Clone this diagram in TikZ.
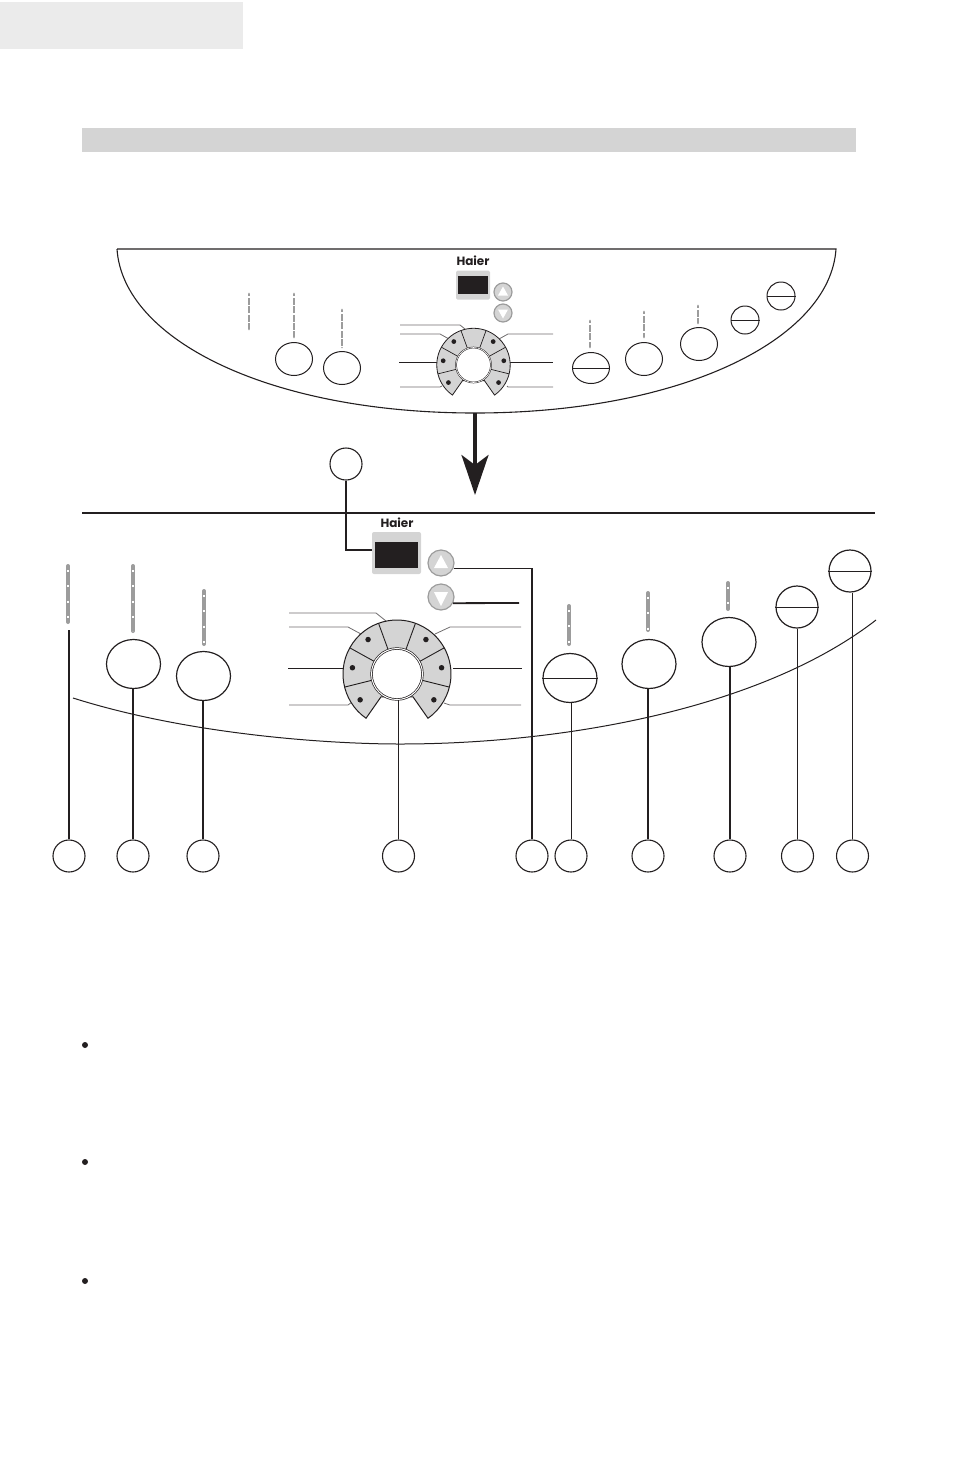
\documentclass[tikz,border=0pt]{standalone}
\usepackage{fontspec}
\setmainfont{Liberation Sans}
\newfontfamily\logofont{Poppins}
\usepackage{xcolor}
\usetikzlibrary{arrows.meta,shapes.geometric,positioning}
\definecolor{inkblack}{HTML}{231F20}
\definecolor{panelgray}{HTML}{D4D4D4}
\definecolor{tabgray}{HTML}{EBEBEB}
\definecolor{edgegray}{HTML}{9C9C9C}
\tikzset{
  numcircle/.style={draw=inkblack, circle, line width=1.1pt, inner sep=0pt, minimum size=32pt},
  bigoval/.style={draw=inkblack, ellipse, line width=1.2pt, inner sep=0pt, minimum width=54pt, minimum height=49pt},
  bigdisc/.style={draw=inkblack, circle, line width=1.2pt, inner sep=0pt, minimum size=42pt},
  smalloval/.style={draw=inkblack, ellipse, line width=1pt, inner sep=0pt, minimum width=37pt, minimum height=33pt},
  smalldisc/.style={draw=inkblack, circle, line width=1pt, inner sep=0pt, minimum size=28pt},
  lead/.style={draw=inkblack, line width=1.8pt},
  thinlead/.style={draw=inkblack, line width=1pt},
  graylead/.style={draw=inkblack!65, line width=0.8pt},
  strip/.style={draw=edgegray, line width=4pt, line cap=round, postaction={draw=white, line width=2.6pt, line cap=butt, dash pattern=on 2pt off 13.2pt, dash phase=11pt}},
  smallstrip/.style={draw=edgegray, line width=2.8pt, line cap=round, postaction={draw=white, line width=1.6pt, line cap=butt, dash pattern=on 1.4pt off 7pt, dash phase=6pt}},
  dialfill/.style={fill=panelgray, draw=inkblack, line width=1pt},
  dialdot/.style={fill=inkblack, circle, inner sep=0pt, minimum size=5.5pt},
  arrowbtn/.style={fill=panelgray, draw=edgegray, circle, line width=1.2pt, inner sep=0pt},
  haier/.style={font=\logofont\bfseries\fontsize{12}{13}\selectfont, text=inkblack, inner sep=0pt}
}

\begin{document}
\begin{tikzpicture}[x=1pt, y=-1pt]
    \useasboundingbox (0, 0) rectangle (954, 1473);

    \fill [tabgray] (0, 2) rectangle (243, 49);
    \fill [panelgray] (82, 128) rectangle (856, 152);

    \draw [inkblack, line width=1.1pt] (117, 249) -- (836, 249) .. controls (830, 340) and (680, 413) .. (475, 413) .. controls (270, 413) and (123, 340) .. (117, 249);

    \node [haier] (UpperLogo) at (473, 261) {Haier};
    \node [fill=panelgray, rounded corners=1.5pt, minimum width=34pt, minimum height=29pt, inner sep=0pt] (UpperFrame) at (473, 285) {};
    \node [fill=inkblack, minimum width=30pt, minimum height=18pt, inner sep=0pt] (UpperScreen) at (473, 285) {};
    \node [arrowbtn, minimum size=18pt] (UpperUp) at (503, 292) {};
    \node [arrowbtn, minimum size=18pt] (UpperDown) at (503, 313) {};
    \fill [white] ([shift={(0, -5.5)}]UpperUp.center) -- ([shift={(5, 3.5)}]UpperUp.center) -- ([shift={(-5, 3.5)}]UpperUp.center) -- cycle;
    \fill [white] ([shift={(0, 5.5)}]UpperDown.center) -- ([shift={(5, -3.5)}]UpperDown.center) -- ([shift={(-5, -3.5)}]UpperDown.center) -- cycle;

    \draw [graylead] (400, 325) -- (460, 325) -- (465, 329);
    \draw [graylead] (400, 334) -- (440, 334) -- (449, 339);
    \draw [thinlead] (399, 362) -- (437, 362);
    \draw [graylead] (400, 387) -- (440, 387) -- (442, 386);
    \draw [graylead] (499, 339) -- (508, 334) -- (553, 334);
    \draw [thinlead] (509, 362) -- (553, 362);
    \draw [graylead] (507, 386) -- (508, 387) -- (553, 387);

    \begin{scope}[shift={(473.5, 365)}, scale=0.68]
      \draw [dialfill, line width=0.8pt] (235:54pt) arc [start angle=235, end angle=-55, radius=54pt] -- (-55:28pt) -- (235:28pt) -- cycle;
      \foreach \a in {110, 70, 151, 29, 194, -14} {
        \draw [inkblack, line width=0.7pt] (\a:26pt) -- (\a:54pt);
      }
      \foreach \a in {130, 172, 215, 50, 8, -35} {
        \fill [inkblack] (\a:45pt) circle (3.5pt);
      }
      \node [draw=inkblack, fill=white, circle, double, double distance=0.6pt, line width=0.5pt, inner sep=0pt, minimum size=35pt] (UpperKnob) at (0, 0) {};
    \end{scope}

    \node [smalloval] (UpperA) at (294, 359) {};
    \node [smalloval] (UpperB) at (342, 368) {};
    \node [smalloval, minimum height=31pt] (UpperC) at (591, 368) {};
    \node [smalloval] (UpperD) at (644, 359) {};
    \node [smalloval] (UpperE) at (699, 344) {};
    \node [smalldisc] (UpperF) at (745, 320) {};
    \node [smalldisc] (UpperG) at (781, 296) {};
    \draw [thinlead] (UpperC.west) -- (UpperC.east);
    \draw [thinlead] (UpperF.west) -- (UpperF.east);
    \draw [thinlead] (UpperG.west) -- (UpperG.east);

    \draw [smallstrip] (249, 294) -- (249, 329);
    \draw [smallstrip] (294, 294) -- (294, 337);
    \draw [smallstrip] (342, 310) -- (342, 347);
    \draw [smallstrip] (590, 321) -- (590, 347);
    \draw [smallstrip] (644, 312) -- (644, 337);
    \draw [smallstrip] (698, 306) -- (698, 323);

    \coordinate (ArrowTop) at (475, 413);
    \coordinate (ArrowTip) at (475, 495);
    \draw [-{Stealth[length=40pt, width=27pt, inset=10pt]}, inkblack, line width=3.5pt] (ArrowTop) -- (ArrowTip);

    \coordinate (RuleLeft) at (82, 513);
    \coordinate (RuleRight) at (875, 513);
    \draw [inkblack, line width=1.6pt] (RuleLeft) -- (RuleRight);

    \draw [inkblack, line width=1pt] (73, 698) .. controls (190, 735) and (330, 744) .. (400, 744) .. controls (560, 744) and (760, 710) .. (876, 620);

    \node [haier] (LowerLogo) at (397, 523) {Haier};
    \node [fill=panelgray, rounded corners=2pt, minimum width=49pt, minimum height=42pt, inner sep=0pt] (LowerFrame) at (396.5, 553) {};
    \node [fill=inkblack, minimum width=43pt, minimum height=26pt, inner sep=0pt] (LowerScreen) at (396.5, 555) {};
    \node [arrowbtn, minimum size=26pt] (LowerUp) at (441, 563) {};
    \node [arrowbtn, minimum size=26pt] (LowerDown) at (441, 597) {};
    \fill [white] ([shift={(0, -8)}]LowerUp.center) -- ([shift={(7, 5)}]LowerUp.center) -- ([shift={(-7, 5)}]LowerUp.center) -- cycle;
    \fill [white] ([shift={(0, 9)}]LowerDown.center) -- ([shift={(7, -5)}]LowerDown.center) -- ([shift={(-7, -5)}]LowerDown.center) -- cycle;

    \draw [graylead] (289, 613) -- (376, 613) -- (386, 621);
    \draw [graylead] (289, 627) -- (348, 627) -- (361, 634);
    \draw [thinlead] (288, 668) -- (343, 668);
    \draw [graylead] (289, 705) -- (348, 705) -- (352, 702);
    \draw [graylead] (435, 634) -- (450, 627) -- (521, 627);
    \draw [thinlead] (453, 668) -- (522, 668);
    \draw [graylead] (444, 703) -- (450, 705) -- (521, 705);

    \begin{scope}[shift={(397, 674)}]
      \draw [dialfill] (235:54pt) arc [start angle=235, end angle=-55, radius=54pt] -- (-55:28pt) -- (235:28pt) -- cycle;
      \foreach \a in {110, 70, 151, 29, 194, -14} {
        \draw [inkblack, line width=0.9pt] (\a:26pt) -- (\a:54pt);
      }
      \foreach \a in {130, 172, 215, 50, 8, -35} {
        \node [dialdot] at (\a:45pt) {};
      }
      \node [draw=inkblack, fill=white, circle, double, double distance=1pt, line width=0.7pt, inner sep=0pt, minimum size=51pt] (LowerKnob) at (0, 0) {};
    \end{scope}

    \node [bigoval] (OvalB) at (133.5, 664) {};
    \node [bigoval] (OvalC) at (203.5, 676) {};
    \node [bigoval] (OvalF) at (570, 678) {};
    \node [bigoval] (OvalG) at (649, 664) {};
    \node [bigoval] (OvalH) at (729, 642) {};
    \node [bigdisc] (OvalI) at (797, 607) {};
    \node [bigdisc] (OvalJ) at (850, 571) {};
    \draw [thinlead] (OvalF.west) -- (OvalF.east);
    \draw [thinlead] (OvalI.west) -- (OvalI.east);
    \draw [thinlead] (OvalJ.west) -- (OvalJ.east);

    \draw [strip] (68, 566) -- (68, 622);
    \draw [strip] (133, 566) -- (133, 631);
    \draw [strip] (204, 591) -- (204, 644);
    \draw [strip] (569, 606) -- (569, 644);
    \draw [strip] (648, 593) -- (648, 630);
    \draw [strip] (728, 583) -- (728, 609);

    \node [numcircle] (NumTop) at (346, 464) {};
    \node [numcircle] (NumA) at (69, 856) {};
    \node [numcircle] (NumB) at (133, 856) {};
    \node [numcircle] (NumC) at (203, 856) {};
    \node [numcircle] (NumD) at (398.5, 856) {};
    \node [numcircle] (NumE) at (532, 856) {};
    \node [numcircle] (NumF) at (571, 856) {};
    \node [numcircle] (NumG) at (648, 856) {};
    \node [numcircle] (NumH) at (730, 856) {};
    \node [numcircle] (NumI) at (797.5, 856) {};
    \node [numcircle] (NumJ) at (852.5, 856) {};

    \coordinate (NumAEnd) at (69, 630);
    \coordinate (DownEnd) at (519, 603);

    \draw [lead] (NumTop.south) |- (LowerFrame.west |- 0, 550);
    \draw [thinlead, line width=1.2pt] (LowerUp.-22) -| (NumE.north);
    \draw [lead] (LowerDown.-27) -- (DownEnd);
    \draw [lead] (NumAEnd) -- (NumA.north);
    \draw [lead] (OvalB.south -| NumB) -- (NumB.north);
    \draw [lead] (OvalC.south -| NumC) -- (NumC.north);
    \draw [thinlead] (LowerKnob.south -| NumD) -- (NumD.north);
    \draw [thinlead] (OvalF.south -| NumF) -- (NumF.north);
    \draw [lead] (OvalG.south -| NumG) -- (NumG.north);
    \draw [lead] (OvalH.south -| NumH) -- (NumH.north);
    \draw [lead] (OvalI.south -| NumI) -- (NumI.north);
    \draw [lead] (OvalJ.south -| NumJ) -- (NumJ.north);

    \node [fill=inkblack, circle, inner sep=0pt, minimum size=6pt] (BulletA) at (85, 1045) {};
    \node [fill=inkblack, circle, inner sep=0pt, minimum size=6pt] (BulletB) at (85, 1162) {};
    \node [fill=inkblack, circle, inner sep=0pt, minimum size=6pt] (BulletC) at (85, 1281) {};
\end{tikzpicture}
\end{document}
